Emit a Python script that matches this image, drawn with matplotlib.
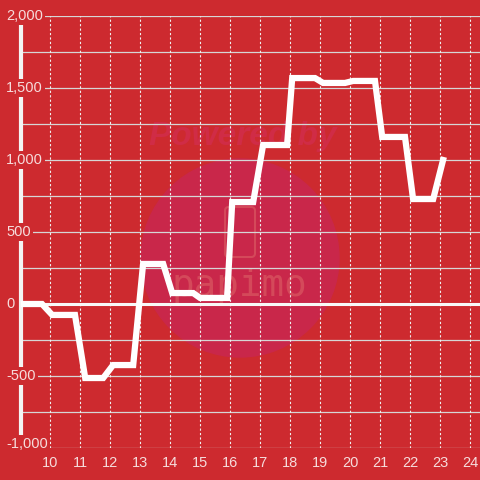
import matplotlib.pyplot as plt
from matplotlib.patches import Circle, FancyBboxPatch

# data (hour of day, value)
hours = [9.03, 9.73, 10.07, 10.83, 11.17, 11.77, 12.1, 12.77, 13.1, 13.77,
         14.07, 14.77, 15.0, 15.9, 16.07, 16.77, 17.1, 17.9, 18.07, 18.83,
         19.1, 19.83, 20.1, 20.83, 21.07, 21.83, 22.1, 22.77, 23.1]
values = [0, 0, -76, -76, -514, -514, -424, -424, 278, 278,
          76, 76, 42, 42, 708, 708, 1104, 1104, 1569, 1569,
          1535, 1535, 1549, 1549, 1160, 1160, 729, 729, 1000]

x_ticks = list(range(10, 25))
y_labels = [2000, 1500, 1000, 500, 0, -500, -1000]
y_grid = [-1000, -750, -500, -250, 250, 500, 750, 1000, 1250, 1500, 1750, 2000]

bg = '#cd2a2f'
txt = '#f6dcdc'
plt.rcParams['font.family'] = ['Liberation Sans', 'DejaVu Sans']

fig = plt.figure(figsize=(4.8, 4.8), dpi=100, facecolor=bg)
ax = fig.add_axes([21 / 480, 32 / 480, 459 / 480, 432 / 480])
ax.set_facecolor(bg)

# watermark, drawn inside the axes below the grid
ax.add_patch(Circle((240 / 480, 1 - 258 / 480), 99 / 480, transform=fig.transFigure,
                    color='#c9274a', zorder=0.5, clip_on=False))
ax.text(243 / 480, 1 - 136 / 480, 'Powered by', transform=fig.transFigure, fontsize=24,
        fontweight='bold', style='italic', color='#d02c46', ha='center', va='center',
        zorder=0.6)
ax.add_patch(FancyBboxPatch((225 / 480, 1 - 257 / 480), 30 / 480, 50 / 480,
                            boxstyle='round,pad=0,rounding_size=0.008',
                            transform=fig.transFigure, fill=False, clip_on=False,
                            ec='#d4495a', lw=1.5, zorder=0.6))
ax.text(239 / 480, 1 - 286 / 480, 'papimo', transform=fig.transFigure, fontsize=27,
        color='#d4495a', family='DejaVu Sans Mono', ha='center', va='center', zorder=0.6)

ax.set_xlim(9.03, 24.33)
ax.set_ylim(-1000, 2000)

for y in y_grid:
    ax.axhline(y, color='#d6d6d6', lw=0.9, zorder=1)
for x in x_ticks:
    ax.axvline(x, color='#f0f0f0', lw=0.8, ls=(0, (2, 2)), zorder=1)
ax.axhline(0, color='#f8f8f8', lw=2.2, zorder=2)

ax.plot(hours, values, color='white', lw=4.5, solid_joinstyle='miter', zorder=4)

for s in ['top', 'right', 'bottom']:
    ax.spines[s].set_visible(False)
ax.spines['left'].set_color('#f4f4f4')
ax.spines['left'].set_linewidth(3)

ax.set_xticks(x_ticks)
ax.set_yticks([])
ax.tick_params(axis='x', length=0, pad=6, labelsize=10.5, labelcolor=txt)

for v in y_labels:
    # lowest label sits just above the axis bottom in the reference
    va = 'baseline' if v == y_labels[-1] else 'center'
    ax.text(-15 / 459, v, f'{v:,}', transform=ax.get_yaxis_transform(), fontsize=10.5,
            color=txt, ha='left', va=va, zorder=5, clip_on=False,
            bbox=dict(facecolor=bg, edgecolor='none', pad=1.5))

fig.savefig('out.png', dpi=100, facecolor=bg)
